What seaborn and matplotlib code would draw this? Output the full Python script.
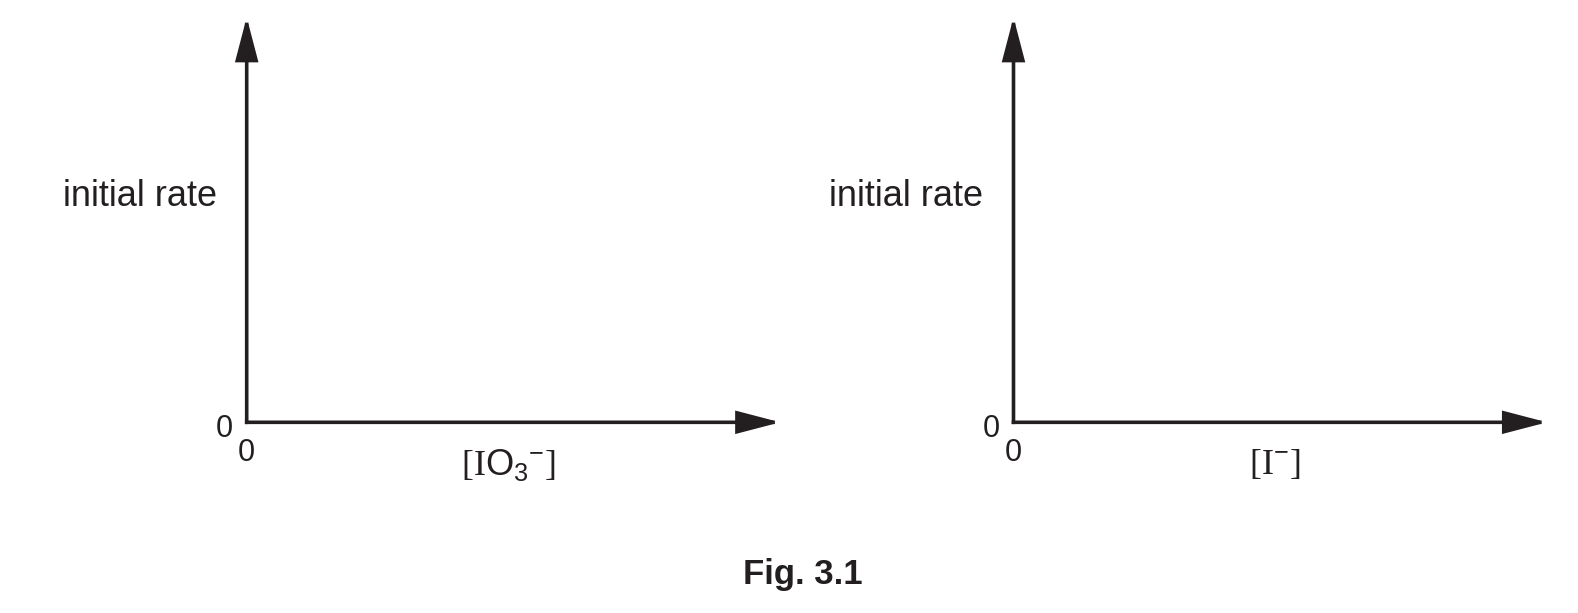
import matplotlib
matplotlib.use('Agg')
import matplotlib.pyplot as plt
import matplotlib.transforms as mtransforms
import seaborn as sns

# Chart content
x_labels = [r'$\mathrm{[I}\mathsf{O_3}{}^{\mathsf{-}}\mathrm{]}$',
            r'$\mathrm{[I}{}^{\mathsf{-}}\mathrm{]}$']
y_label = 'initial rate'
zero_ticks = [0]
zero_labels = ['0']
caption = 'Fig. 3.1'

sns.set_style('white')
plt.rcParams['font.family'] = ['Liberation Sans', 'DejaVu Sans']
plt.rcParams['mathtext.fontset'] = 'custom'
plt.rcParams['mathtext.rm'] = 'Liberation Serif'
plt.rcParams['mathtext.sf'] = 'Liberation Sans'
plt.rcParams['mathtext.it'] = 'Liberation Sans:italic'

W, H = 1578, 613
fig = plt.figure(figsize=(W / 100, H / 100), dpi=100)

ink = '#231f20'

# axes positions in pixels: left edge = y-axis, right edge = arrow tip
lefts = [246.7, 1013.5]
width = 533.5
bottom_px, top_px = 422.3, 17.3

for left, xl in zip(lefts, x_labels):
    ax = fig.add_axes([left / W, 1 - bottom_px / H, width / W, (bottom_px - top_px) / H])
    ax.set_xlim(0, 1)
    ax.set_ylim(0, 1)
    for s in ax.spines.values():
        s.set_visible(False)
    ax.patch.set_alpha(0)

    arrow = dict(arrowstyle='-|>,head_length=2.6,head_width=0.68', lw=2.6,
                 color=ink, shrinkA=0, shrinkB=0, mutation_scale=10,
                 joinstyle='miter', capstyle='projecting')
    ax.annotate('', xy=(1, 0), xytext=(0, 0), arrowprops=arrow, annotation_clip=False)
    ax.annotate('', xy=(0, 1), xytext=(0, 0), arrowprops=arrow, annotation_clip=False)

    ax.set_xticks(zero_ticks)
    ax.set_xticklabels(zero_labels)
    ax.set_yticks(zero_ticks)
    ax.set_yticklabels(zero_labels)
    ax.tick_params(axis='x', length=0, pad=11, labelsize=22, labelcolor=ink)
    ax.tick_params(axis='y', length=0, pad=10, labelsize=22, labelcolor=ink)
    shift = mtransforms.ScaledTranslation(0, -3.5 / 100, fig.dpi_scale_trans)
    for lab in ax.get_yticklabels():
        lab.set_transform(lab.get_transform() + shift)

    ax.text(0.49, -0.105, xl, transform=ax.transAxes, ha='center', va='center',
            fontsize=26, color=ink)
    ax.text(-0.0565, 0.557, y_label, transform=ax.transAxes, ha='right', va='center',
            fontsize=26, color=ink)

fig.text(0.509, 0.0627, caption, ha='center', va='center', fontsize=25,
         fontweight='bold', color=ink)

fig.savefig('out.png', dpi=100)
